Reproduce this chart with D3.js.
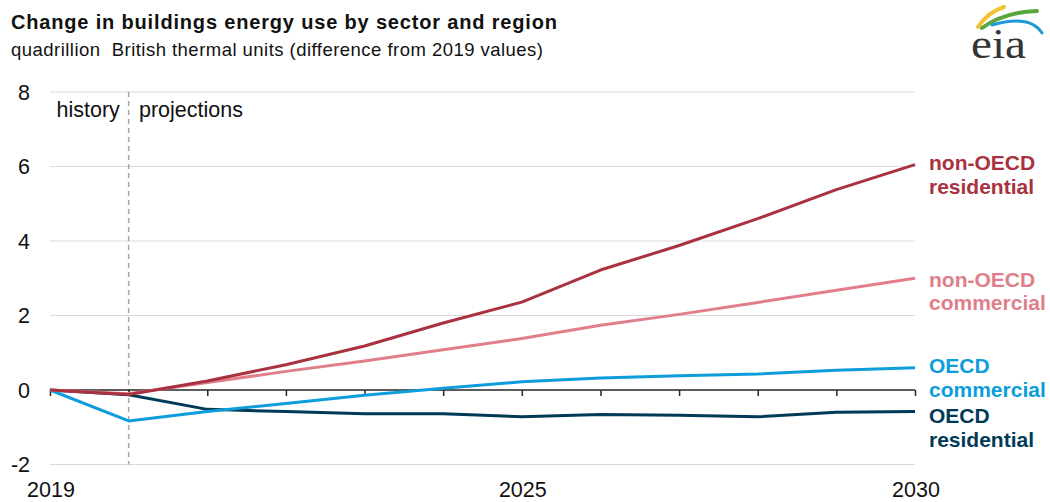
<!DOCTYPE html>
<html><head><meta charset="utf-8">
<script src="https://cdn.jsdelivr.net/npm/d3@7"></script>
<style>body{margin:0;background:#fff;font-family:"Liberation Sans",Arial,sans-serif;}</style>
</head><body><svg id="c" width="1050" height="502"></svg>
<script>
const years = [2019,2020,2021,2022,2023,2024,2025,2026,2027,2028,2029,2030];
const nonOecdRes = [0,-0.12,0.24,0.68,1.18,1.8,2.36,3.22,3.88,4.6,5.38,6.05];
const nonOecdCom = [0,-0.1,0.2,0.5,0.78,1.08,1.38,1.74,2.03,2.35,2.68,3.0];
const oecdCom = [0,-0.83,-0.58,-0.36,-0.14,0.05,0.22,0.32,0.38,0.43,0.53,0.6];
const oecdRes = [0,-0.13,-0.52,-0.58,-0.64,-0.64,-0.72,-0.66,-0.68,-0.72,-0.6,-0.58];
const yTicks = [-2,0,2,4,6,8];
const xLabels = [2019,2025,2030];
const series = [
  {name:["non-OECD","residential"], values:nonOecdRes, color:"#a8323f", ly:[170,193.5]},
  {name:["non-OECD","commercial"], values:nonOecdCom, color:"#e07e8a", ly:[286.5,310]},
  {name:["OECD","commercial"], values:oecdCom, color:"#0d9ddb", ly:[373.3,396.7]},
  {name:["OECD","residential"], values:oecdRes, color:"#003a57", ly:[423.3,446.7]}
];
const svg = d3.select("#c");
const x = d3.scaleLinear().domain([2019,2030]).range([50,915]);
const y = d3.scaleLinear().domain([-2,8]).range([464.5,92]);

svg.append("text").attr("x",11).attr("y",28.5).attr("font-size",20).attr("font-weight","bold").attr("fill","#111")
  .attr("textLength",546).attr("lengthAdjust","spacing").text("Change in buildings energy use by sector and region");
svg.append("text").attr("x",11).attr("y",55.5).attr("font-size",18.5).attr("fill","#111")
  .attr("textLength",532).attr("lengthAdjust","spacing").attr("xml:space","preserve").style("white-space","pre")
  .text("quadrillion  British thermal units (difference from 2019 values)");

// gridlines
svg.append("g").selectAll("line").data(yTicks.filter(d=>d!==0)).join("line")
  .attr("x1",50).attr("x2",915).attr("y1",d=>y(d)).attr("y2",d=>y(d))
  .attr("stroke","#d9d9d9").attr("stroke-width",1);
// y labels
svg.append("g").selectAll("text").data(yTicks).join("text")
  .attr("x",30).attr("y",d=>y(d)+7.5).attr("text-anchor","end").attr("font-size",21.5).attr("fill","#111")
  .text(d=>d);

// dashed divider
svg.append("line").attr("x1",x(2020)).attr("x2",x(2020)).attr("y1",y(8)).attr("y2",y(-2))
  .attr("stroke","#a6a6a6").attr("stroke-width",1.5).attr("stroke-dasharray","5,4");
svg.append("text").attr("x",56.5).attr("y",117.3).attr("font-size",21.5).attr("fill","#111").text("history");
svg.append("text").attr("x",139).attr("y",117.3).attr("font-size",21.5).attr("fill","#111").text("projections");

// zero axis
const xAxis = d3.axisBottom(x).tickValues(years).tickSize(6).tickFormat("");
const ax = svg.append("g").attr("transform",`translate(0,${y(0)})`).call(xAxis);
ax.select(".domain").attr("stroke","#262626").attr("stroke-width",1.5).attr("d",`M${x(2019)},0H${x(2030)}`);
ax.selectAll(".tick line").attr("stroke","#262626").attr("stroke-width",1.5);

// x labels
svg.append("g").selectAll("text").data(xLabels).join("text")
  .attr("x",d=>x(d)+1).attr("y",497).attr("text-anchor","middle").attr("font-size",21.5).attr("fill","#111").text(d=>d);

// lines
const line = d3.line().x((d,i)=>x(years[i])).y(d=>y(d));
[3,2,1,0].forEach(i=>{
  const s = series[i];
  svg.append("path").attr("d",line(s.values)).attr("fill","none").attr("stroke",s.color).attr("stroke-width",3).attr("stroke-linejoin","round");
});
series.forEach(s=>{
  s.name.forEach((t,j)=>{
    svg.append("text").attr("x",929).attr("y",s.ly[j]).attr("font-size",21).attr("font-weight","bold").attr("fill",s.color).text(t);
  });
});

// eia logo
const lg = svg.append("g");
lg.append("path").attr("d","M978,27 Q988,12 1004,7").attr("fill","none").attr("stroke","#f2c230").attr("stroke-width",4).attr("stroke-linecap","round");
lg.append("path").attr("d","M982,28 Q1004,12 1037,11").attr("fill","none").attr("stroke","#5aa63c").attr("stroke-width",4).attr("stroke-linecap","round");
lg.append("path").attr("d","M992,25 Q1030,14 1042,33").attr("fill","none").attr("stroke","#1f9ad6").attr("stroke-width",3).attr("stroke-linecap","round");
lg.append("text").attr("x",971).attr("y",58).attr("font-family","'Liberation Serif','DejaVu Serif',serif").attr("font-size",42)
  .attr("textLength",55).attr("lengthAdjust","spacingAndGlyphs").attr("fill","#333").text("eia");
</script></body></html>
